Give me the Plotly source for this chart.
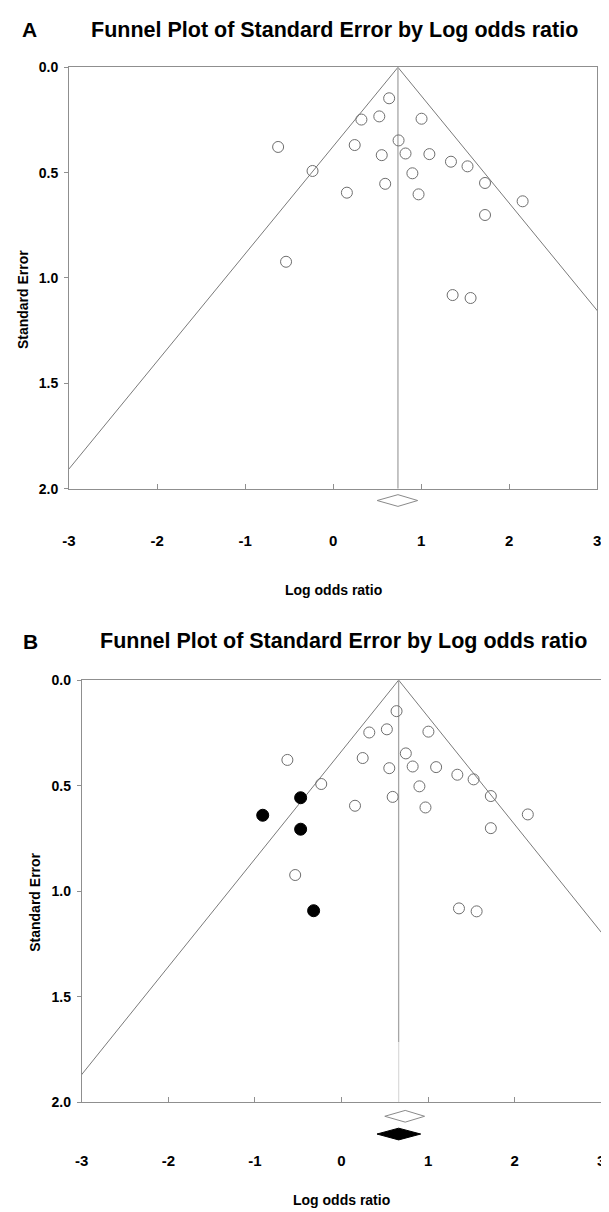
import plotly.graph_objects as go

W, H = 609, 1212

# ---- data ----
x_ticks = [-3, -2, -1, 0, 1, 2, 3]
x_tick_text = ["-3", "-2", "-1", "0", "1", "2", "3"]
y_ticks = [0.0, 0.5, 1.0, 1.5, 2.0]
y_tick_text = ["0.0", "0.5", "1.0", "1.5", "2.0"]

# observed studies (both panels)
log_or = [0.636, 0.321, 0.524, 1.004, -0.625, 0.245, 0.743, 0.552, 0.822, 1.093,
          1.338, 1.526, -0.234, 0.900, 0.591, 1.725, 0.156, 0.970, 2.152, 1.725,
          -0.535, 1.357, 1.561]
std_err = [0.147, 0.248, 0.233, 0.244, 0.378, 0.369, 0.347, 0.417, 0.409, 0.412,
           0.448, 0.470, 0.492, 0.503, 0.553, 0.549, 0.595, 0.603, 0.636, 0.701,
           0.923, 1.081, 1.095]
# imputed studies (panel B, trim and fill)
log_or_imp = [-0.472, -0.910, -0.472, -0.322]
std_err_imp = [0.557, 0.640, 0.706, 1.092]

# pooled estimates
est_obs = 0.736
ci_obs = [0.50, 0.96]
est_adj = 0.660
ci_adj = [0.41, 0.915]
z = 1.96
se_max = 2.0
vline_split_B = 1.715

title_text = "Funnel Plot of Standard Error by Log odds ratio"

FONT = "Liberation Sans"
GRAY = "#8f8f8f"


def px(p):
    return p / W


def py(p):
    return 1 - p / H


fig = go.Figure()


def add_panel(xa, ya, yd, est, open_diamonds, filled_diamond, imputed, split):
    xs = "x" if xa == 1 else f"x{xa}"
    ys = "y" if ya == 1 else f"y{ya}"
    yds = f"y{yd}"
    # funnel
    fig.add_trace(go.Scatter(
        x=[est - z * se_max, est, est + z * se_max], y=[se_max, 0, se_max],
        mode="lines", line=dict(color="#7a7a7a", width=1),
        xaxis=xs, yaxis=ys, hoverinfo="skip", showlegend=False))
    # vertical line at the pooled estimate
    if split is None:
        fig.add_trace(go.Scatter(
            x=[est, est], y=[0, se_max], mode="lines",
            line=dict(color="#a6a6a6", width=1.3),
            xaxis=xs, yaxis=ys, hoverinfo="skip", showlegend=False))
    else:
        fig.add_trace(go.Scatter(
            x=[est, est], y=[0, split], mode="lines",
            line=dict(color="#a6a6a6", width=1.3),
            xaxis=xs, yaxis=ys, hoverinfo="skip", showlegend=False))
        fig.add_trace(go.Scatter(
            x=[est, est], y=[split, se_max], mode="lines",
            line=dict(color="#dcdcdc", width=1.3),
            xaxis=xs, yaxis=ys, hoverinfo="skip", showlegend=False))
    # studies
    fig.add_trace(go.Scatter(
        x=log_or, y=std_err, mode="markers",
        marker=dict(size=11, color="rgba(255,255,255,0)",
                    line=dict(color="#6e6e6e", width=1)),
        xaxis=xs, yaxis=ys, hoverinfo="x+y", showlegend=False))
    if imputed:
        fig.add_trace(go.Scatter(
            x=log_or_imp, y=std_err_imp, mode="markers",
            marker=dict(size=12, color="black", line=dict(color="black", width=1)),
            xaxis=xs, yaxis=ys, hoverinfo="x+y", showlegend=False))
    # diamonds
    for row, (lo, mid, hi) in open_diamonds:
        fig.add_trace(go.Scatter(
            x=[lo, mid, hi, mid, lo], y=[row, row - 0.33, row, row + 0.33, row],
            mode="lines", line=dict(color="#8a8a8a", width=1),
            xaxis=xs, yaxis=yds, hoverinfo="skip", showlegend=False))
    if filled_diamond is not None:
        row, (lo, mid, hi) = filled_diamond
        fig.add_trace(go.Scatter(
            x=[lo, mid, hi, mid, lo], y=[row, row - 0.33, row, row + 0.33, row],
            mode="lines", fill="toself", fillcolor="black",
            line=dict(color="black", width=1),
            xaxis=xs, yaxis=yds, hoverinfo="skip", showlegend=False))


add_panel(1, 1, 3, est_obs, [(1, (ci_obs[0], est_obs, ci_obs[1]))], None, False, None)
add_panel(2, 2, 4, est_adj, [(1, (ci_obs[0], est_obs, ci_obs[1]))],
          (2, (ci_adj[0], est_adj, ci_adj[1])), True, vline_split_B)

xax_common = dict(range=[-3, 3], tickvals=x_ticks, ticktext=x_tick_text,
                  showline=True, mirror=True, linecolor=GRAY, linewidth=1,
                  ticks="inside", ticklen=5, tickcolor=GRAY, showgrid=False,
                  zeroline=False, ticklabeloverflow="allow",
                  tickfont=dict(family=FONT, size=15, color="black", weight="bold"))
yax_common = dict(range=[2, 0], tickvals=y_ticks, ticktext=y_tick_text,
                  showline=True, mirror=True, linecolor=GRAY, linewidth=1,
                  ticks="outside", ticklen=4, tickcolor=GRAY, showgrid=False,
                  zeroline=False, ticklabelstandoff=3,
                  tickfont=dict(family=FONT, size=14, color="black", weight="bold"))
ydiam = dict(visible=False, showgrid=False, zeroline=False)

fig.update_layout(
    width=W, height=H, margin=dict(l=0, r=0, t=0, b=0),
    paper_bgcolor="white", plot_bgcolor="white", showlegend=False,
    xaxis=dict(domain=[px(55), px(593)], anchor="y", ticklabelstandoff=38, **xax_common),
    yaxis=dict(domain=[py(479), py(52)], anchor="x", **yax_common),
    yaxis3=dict(domain=[py(500), py(482)], anchor="x", range=[1.5, 0.5], **ydiam),
    xaxis2=dict(domain=[px(68), px(597)], anchor="y2", ticklabelstandoff=45, **xax_common),
    yaxis2=dict(domain=[py(1101), py(673)], anchor="x2", **yax_common),
    yaxis4=dict(domain=[py(1142), py(1106)], anchor="x2", range=[2.5, 0.5], **ydiam),
)


def ann(text, x, y, size, angle=0):
    fig.add_annotation(text=text, x=px(x), y=py(y), xref="paper", yref="paper",
                       showarrow=False, xanchor="center", yanchor="middle",
                       textangle=angle,
                       font=dict(family=FONT, size=size, color="black", weight="bold"))


ann("A", 15, 14, 21)
ann(title_text, 325, 14, 21.5)
ann("Standard Error", 8, 287, 14, -90)
ann("Log odds ratio", 324, 582, 14)

ann("B", 16, 634, 21)
ann(title_text, 335, 633, 21.5)
ann("Standard Error", 21, 898, 14, -90)
ann("Log odds ratio", 333, 1200, 14)

fig.write_html("out.html")
